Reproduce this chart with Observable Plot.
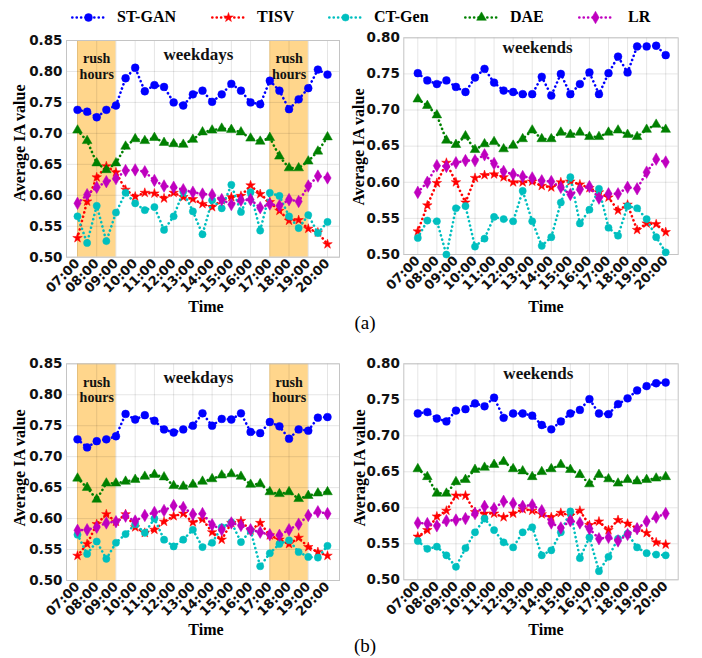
<!DOCTYPE html>
<html>
<head>
<meta charset="utf-8">
<script src="https://cdn.jsdelivr.net/npm/d3@7"></script>
<script src="https://cdn.jsdelivr.net/npm/@observablehq/plot@0.6"></script>
<style>
  body { margin: 0; background: #fff; }
  #fig { position: relative; width: 702px; height: 658px; background: #fff; font-family: "Liberation Serif", serif; }
  .abs { position: absolute; white-space: nowrap; }
  .ylab { font-weight: bold; font-size: 16px; transform: translate(-50%, -50%) rotate(-90deg); }
  .xlab { font-weight: bold; font-size: 16px; transform: translate(-50%, -50%); }
  .cap { font-size: 19px; transform: translate(-50%, -50%); }
  .leg { font-weight: bold; font-size: 16px; transform: translateY(-50%); }
  .panel { position: absolute; }
</style>
</head>
<body>
<div id="fig"></div>
<script>
// ---------- data ----------
const slots = ["07:00","07:30","08:00","08:30","09:00","09:30","10:00","10:30","11:00","11:30","12:00","12:30","13:00","13:30",
  "14:00","14:30","15:00","15:30","16:00","16:30","17:00","17:30","18:00","18:30","19:00","19:30","20:00"];
const hourLabels = ["07:00","08:00","09:00","10:00","11:00","12:00","13:00","14:00","15:00","16:00","17:00","18:00","19:00","20:00"];
const yTicksDay = [0.50, 0.55, 0.60, 0.65, 0.70, 0.75, 0.80, 0.85];
const yTicksEnd = [0.50, 0.55, 0.60, 0.65, 0.70, 0.75, 0.80];
const seriesNames = ["ST-GAN", "TISV", "CT-Gen", "DAE", "LR"];
const rushHours = [["07:00", "09:00"], ["17:00", "19:00"]];
const rushWords = ["rush", "hours"];

// (a) weekdays
const aDayST   = [0.738,0.735,0.726,0.738,0.745,0.789,0.806,0.768,0.778,0.775,0.750,0.745,0.763,0.769,0.751,0.763,0.780,0.769,0.750,0.747,0.785,0.769,0.739,0.755,0.773,0.803,0.795];
const aDayTISV = [0.531,0.590,0.629,0.647,0.637,0.609,0.598,0.604,0.603,0.595,0.604,0.597,0.594,0.586,0.581,0.592,0.597,0.599,0.616,0.602,0.589,0.575,0.559,0.560,0.546,0.540,0.521];
const aDayCT   = [0.566,0.523,0.583,0.526,0.572,0.604,0.587,0.576,0.581,0.544,0.566,0.606,0.574,0.537,0.592,0.579,0.617,0.573,0.605,0.543,0.604,0.599,0.566,0.547,0.568,0.539,0.557];
const aDayDAE  = [0.705,0.688,0.652,0.641,0.652,0.679,0.691,0.688,0.693,0.685,0.683,0.682,0.690,0.702,0.705,0.708,0.706,0.702,0.692,0.687,0.693,0.663,0.644,0.644,0.655,0.671,0.694];
const aDayLR   = [0.587,0.601,0.613,0.622,0.627,0.640,0.641,0.638,0.624,0.615,0.613,0.609,0.605,0.602,0.601,0.593,0.585,0.592,0.593,0.580,0.586,0.583,0.593,0.590,0.615,0.631,0.628];
// (a) weekends
const aEndST   = [0.751,0.741,0.736,0.741,0.732,0.725,0.745,0.757,0.738,0.727,0.725,0.722,0.722,0.746,0.720,0.750,0.722,0.736,0.752,0.722,0.751,0.774,0.752,0.788,0.788,0.789,0.776];
const aEndTISV = [0.532,0.568,0.599,0.627,0.600,0.572,0.606,0.610,0.611,0.607,0.600,0.600,0.601,0.595,0.593,0.600,0.601,0.597,0.592,0.586,0.579,0.561,0.569,0.534,0.543,0.542,0.531];
const aEndCT   = [0.523,0.547,0.546,0.500,0.564,0.567,0.511,0.522,0.552,0.549,0.546,0.588,0.546,0.512,0.524,0.572,0.607,0.543,0.562,0.591,0.537,0.526,0.567,0.564,0.549,0.524,0.503];
const aEndDAE  = [0.715,0.706,0.693,0.658,0.652,0.664,0.645,0.653,0.656,0.646,0.651,0.660,0.672,0.660,0.660,0.669,0.666,0.669,0.663,0.663,0.669,0.672,0.666,0.663,0.673,0.680,0.673];
const aEndLR   = [0.586,0.600,0.623,0.622,0.627,0.630,0.630,0.638,0.626,0.615,0.611,0.608,0.606,0.602,0.601,0.593,0.583,0.590,0.594,0.578,0.584,0.584,0.593,0.591,0.614,0.632,0.628];
// (b) weekdays
const bDayST   = [0.728,0.715,0.725,0.728,0.733,0.769,0.760,0.767,0.758,0.744,0.739,0.744,0.750,0.770,0.750,0.761,0.760,0.770,0.740,0.738,0.756,0.749,0.729,0.744,0.742,0.763,0.764];
const bDayTISV = [0.540,0.559,0.591,0.607,0.595,0.607,0.586,0.577,0.582,0.595,0.604,0.608,0.594,0.599,0.578,0.566,0.593,0.596,0.581,0.593,0.573,0.566,0.559,0.569,0.554,0.546,0.540];
const bDayCT   = [0.574,0.543,0.563,0.535,0.561,0.575,0.591,0.577,0.600,0.566,0.555,0.566,0.582,0.554,0.561,0.586,0.594,0.562,0.581,0.523,0.544,0.559,0.565,0.546,0.538,0.537,0.556];
const bDayDAE  = [0.665,0.650,0.631,0.657,0.657,0.660,0.663,0.668,0.671,0.667,0.653,0.652,0.655,0.660,0.664,0.670,0.672,0.668,0.655,0.656,0.643,0.640,0.643,0.632,0.637,0.641,0.643];
const bDayLR   = [0.581,0.582,0.586,0.593,0.595,0.604,0.596,0.605,0.610,0.613,0.621,0.618,0.607,0.608,0.590,0.582,0.593,0.589,0.582,0.578,0.574,0.573,0.582,0.591,0.605,0.611,0.608];
// (b) weekends
const bEndST   = [0.731,0.733,0.724,0.720,0.735,0.737,0.745,0.741,0.753,0.725,0.731,0.731,0.728,0.715,0.709,0.720,0.731,0.736,0.751,0.731,0.730,0.744,0.752,0.763,0.769,0.773,0.774];
const bEndTISV = [0.560,0.569,0.588,0.596,0.617,0.617,0.594,0.592,0.592,0.587,0.592,0.598,0.596,0.591,0.587,0.593,0.589,0.596,0.576,0.581,0.569,0.583,0.578,0.572,0.565,0.552,0.549];
const bEndCT   = [0.554,0.543,0.546,0.534,0.518,0.544,0.566,0.585,0.569,0.552,0.545,0.566,0.573,0.534,0.541,0.566,0.595,0.530,0.559,0.512,0.532,0.557,0.564,0.545,0.537,0.535,0.534];
const bEndDAE  = [0.654,0.643,0.620,0.620,0.636,0.639,0.653,0.656,0.660,0.664,0.654,0.651,0.643,0.650,0.654,0.660,0.653,0.646,0.633,0.646,0.640,0.634,0.639,0.637,0.639,0.641,0.643];
const bEndLR   = [0.579,0.578,0.575,0.582,0.583,0.585,0.592,0.602,0.599,0.609,0.606,0.602,0.604,0.596,0.579,0.572,0.582,0.579,0.571,0.557,0.559,0.554,0.563,0.571,0.581,0.587,0.592];

// ---------- styling ----------
const styles = {
  "ST-GAN": { color: "#0000ff", symbol: "circle",   r: 3.9 },
  "TISV":   { color: "#ff0000", symbol: "star",     r: 3.0 },
  "CT-Gen": { color: "#00bfbf", symbol: "circle",   r: 3.6 },
  "DAE":    { color: "#008000", symbol: "triangle", r: 3.6 },
  "LR":     { color: "#bf00bf", symbol: "diamond",  r: 3.8 }
};
const toHour = s => +s.slice(0, 2) + (+s.slice(3, 5)) / 60;
const hourTicks = hourLabels.map(toHour);

function panel(cfg) {
  const rows = [];
  cfg.series.forEach((arr, k) => arr.forEach((v, i) => rows.push({ t: toHour(slots[i]), v, s: seriesNames[k] })));
  const marks = [];
  if (cfg.rush) {
    marks.push(Plot.rect(rushHours.map(([a, b]) => ({ x1: toHour(a), x2: toHour(b) })),
      { x1: "x1", x2: "x2", fill: "#ffa500", fillOpacity: 0.45 }));
    const words = [];
    rushHours.forEach(([a, b]) => rushWords.forEach((w, j) =>
      words.push({ x: (toHour(a) + toHour(b)) / 2, y: cfg.rushY[j], w })));
    marks.push(Plot.text(words, { x: "x", y: "y", text: "w", fontFamily: "Liberation Serif", fontWeight: "bold",
      fontSize: 14, fill: "#111" }));
  }
  marks.push(Plot.gridX({ ticks: hourTicks, stroke: "#000", strokeOpacity: 0.1 }));
  marks.push(Plot.gridY({ ticks: cfg.yTicks, stroke: "#000", strokeOpacity: 0.1 }));
  marks.push(Plot.frame({ stroke: "#c4c4c4" }));
  marks.push(Plot.axisY({ ticks: cfg.yTicks, tickFormat: d3.format(".2f"), tickSize: 0, tickPadding: 4,
    fontSize: 13.5, fontWeight: "bold", fontFamily: "DejaVu Sans", fill: "#111", label: null }));
  marks.push(Plot.axisX({ ticks: hourTicks, tickFormat: (d, i) => hourLabels[i], tickSize: 0, tickPadding: 4,
    tickRotate: -45, fontSize: 13, fontWeight: "bold", fontFamily: "DejaVu Sans", fill: "#111", label: null }));
  for (const name of seriesNames) {
    const st = styles[name];
    const data = rows.filter(d => d.s === name);
    marks.push(Plot.line(data, { x: "t", y: "v", stroke: st.color, strokeWidth: 2.6,
      strokeDasharray: "0.1 4.3", strokeLinecap: "round" }));
    marks.push(Plot.dot(data, { x: "t", y: "v", fill: st.color, stroke: st.color, strokeWidth: 0.5,
      symbol: st.symbol, r: st.r }));
  }
  marks.push(Plot.text([cfg.title], { x: "x", y: "y", text: "t", fontFamily: "Liberation Serif",
    fontWeight: "bold", fontSize: 17, fill: "#111" }));
  const svg = Plot.plot({
    width: cfg.width, height: cfg.height,
    marginLeft: cfg.mL, marginRight: cfg.mR, marginTop: cfg.mT, marginBottom: cfg.mB,
    x: { domain: cfg.xDomain },
    y: { domain: [cfg.yTicks[0], cfg.yTicks[cfg.yTicks.length - 1]] },
    style: { background: "transparent", overflow: "visible", fontFamily: "DejaVu Sans" },
    marks
  });
  svg.classList.add("panel");
  svg.style.left = cfg.left + "px";
  svg.style.top = cfg.top + "px";
  return svg;
}

const fig = document.getElementById("fig");
const leftX = [6.428, 20.624], rightX = [6.266, 20.655];
const rushY = [0.8205, 0.7955];

fig.append(panel({ left: 0, top: 30, width: 345, height: 270, mL: 66, mR: 6, mT: 10, mB: 43.3,
  xDomain: leftX, yTicks: yTicksDay, rush: true, rushY,
  series: [aDayST, aDayTISV, aDayCT, aDayDAE, aDayLR], title: { x: 13.29, y: 0.827, t: "weekdays" } }));
fig.append(panel({ left: 345, top: 28, width: 357, height: 270, mL: 58.3, mR: 24.3, mT: 9.3, mB: 44,
  xDomain: rightX, yTicks: yTicksEnd, rush: false,
  series: [aEndST, aEndTISV, aEndCT, aEndDAE, aEndLR], title: { x: 13.28, y: 0.787, t: "weekends" } }));
fig.append(panel({ left: 0, top: 353, width: 345, height: 270, mL: 66, mR: 6, mT: 10.3, mB: 43,
  xDomain: leftX, yTicks: yTicksDay, rush: true, rushY,
  series: [bDayST, bDayTISV, bDayCT, bDayDAE, bDayLR], title: { x: 13.29, y: 0.828, t: "weekdays" } }));
fig.append(panel({ left: 345, top: 353, width: 357, height: 270, mL: 58.3, mR: 24.3, mT: 10.3, mB: 43.7,
  xDomain: rightX, yTicks: yTicksEnd, rush: false,
  series: [bEndST, bEndTISV, bEndCT, bEndDAE, bEndLR], title: { x: 13.32, y: 0.786, t: "weekends" } }));

// ---------- labels ----------
function label(cls, text, x, y) {
  const d = document.createElement("div");
  d.className = "abs " + cls;
  d.textContent = text;
  d.style.left = x + "px";
  d.style.top = y + "px";
  fig.append(d);
}
label("ylab", "Average IA value", 20, 143);
label("ylab", "Average IA value", 359, 147);
label("ylab", "Average IA value", 20, 468);
label("ylab", "Average IA value", 360, 468);
label("xlab", "Time", 206, 307);
label("xlab", "Time", 546, 307);
label("xlab", "Time", 206, 630);
label("xlab", "Time", 546, 630);
label("cap", "(a)", 365, 323);
label("cap", "(b)", 365, 646);

// ---------- legend ----------
const legendPos = [[70, 117], [210, 257], [327, 374], [463, 510], [577, 628]];
seriesNames.forEach((name, k) => {
  const st = styles[name];
  const sw = Plot.plot({
    width: 36, height: 14, margin: 0,
    x: { domain: [0, 1], axis: null }, y: { domain: [0, 1], axis: null },
    style: { background: "transparent", overflow: "visible" },
    marks: [
      Plot.line([[0.05, 0.5], [0.95, 0.5]], { stroke: st.color, strokeWidth: 2.6, strokeDasharray: "0.1 4.3", strokeLinecap: "round" }),
      Plot.dot([[0.5, 0.5]], { fill: st.color, stroke: st.color, strokeWidth: 0.5, symbol: st.symbol, r: st.r })
    ]
  });
  sw.classList.add("panel");
  sw.style.left = legendPos[k][0] + "px";
  sw.style.top = "10px";
  fig.append(sw);
  label("leg", name, legendPos[k][1], 17);
});
</script>
</body>
</html>
